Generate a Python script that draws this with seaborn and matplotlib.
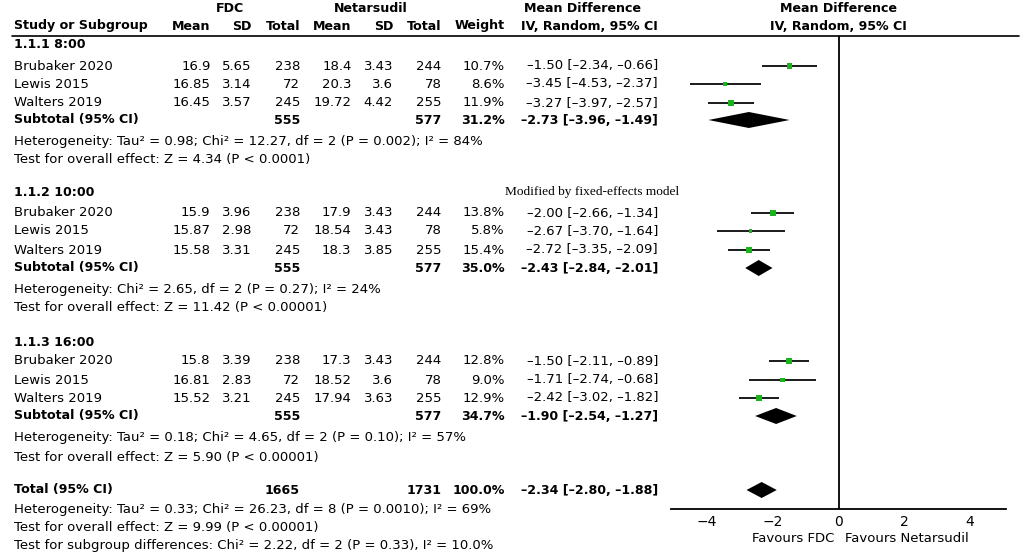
import numpy as np
import pandas as pd
import matplotlib
matplotlib.use('Agg')
import matplotlib.pyplot as plt
import seaborn as sns

# data
studies = ['Brubaker 2020', 'Lewis 2015', 'Walters 2019']
groups = ['1.1.1 8:00', '1.1.2 10:00', '1.1.3 16:00']
fdc_mean = [[16.9, 16.85, 16.45], [15.9, 15.87, 15.58], [15.8, 16.81, 15.52]]
fdc_sd = [[5.65, 3.14, 3.57], [3.96, 2.98, 3.31], [3.39, 2.83, 3.21]]
fdc_n = [[238, 72, 245], [238, 72, 245], [238, 72, 245]]
net_mean = [[18.4, 20.3, 19.72], [17.9, 18.54, 18.3], [17.3, 18.52, 17.94]]
net_sd = [[3.43, 3.6, 4.42], [3.43, 3.43, 3.85], [3.43, 3.6, 3.63]]
net_n = [[244, 78, 255], [244, 78, 255], [244, 78, 255]]
weight = [[10.7, 8.6, 11.9], [13.8, 5.8, 15.4], [12.8, 9.0, 12.9]]
md = [[-1.50, -3.45, -3.27], [-2.00, -2.67, -2.72], [-1.50, -1.71, -2.42]]
lo = [[-2.34, -4.53, -3.97], [-2.66, -3.70, -3.35], [-2.11, -2.74, -3.02]]
hi = [[-0.66, -2.37, -2.57], [-1.34, -1.64, -2.09], [-0.89, -0.68, -1.82]]
sub_n = [(555, 577), (555, 577), (555, 577)]
sub_w = [31.2, 35.0, 34.7]
sub_md = [-2.73, -2.43, -1.90]
sub_lo = [-3.96, -2.84, -2.54]
sub_hi = [-1.49, -2.01, -1.27]
het = ['Heterogeneity: Tau² = 0.98; Chi² = 12.27, df = 2 (P = 0.002); I² = 84%',
       'Heterogeneity: Chi² = 2.65, df = 2 (P = 0.27); I² = 24%',
       'Heterogeneity: Tau² = 0.18; Chi² = 4.65, df = 2 (P = 0.10); I² = 57%']
overall = ['Test for overall effect: Z = 4.34 (P < 0.0001)',
           'Test for overall effect: Z = 11.42 (P < 0.00001)',
           'Test for overall effect: Z = 5.90 (P < 0.00001)']
tot_n = (1665, 1731)
tot_md, tot_lo, tot_hi = -2.34, -2.80, -1.88
tot_lines = ['Heterogeneity: Tau² = 0.33; Chi² = 26.23, df = 8 (P = 0.0010); I² = 69%',
             'Test for overall effect: Z = 9.99 (P < 0.00001)',
             'Test for subgroup differences: Chi² = 2.22, df = 2 (P = 0.33), I² = 10.0%']

# layout (pixel rows)
group_y = [45, 193, 342]
row_step = [[66, 84, 103, 120, 141, 160], [213, 231, 250, 268, 290, 308], [361, 380, 398, 416, 438, 457]]
total_y = [490, 509, 527, 546]
col_x = [210.5, 251.5, 300, 351.5, 393, 441.5, 505]
ci_x = 658

sns.set_style('white')
plt.rcParams['font.family'] = ['DejaVu Sans']
plt.rcParams['text.color'] = 'black'
plt.rcParams['xtick.color'] = 'black'
fs = 9.5
fsb = 9.1

W, H = 1021, 559
fig = plt.figure(figsize=(W / 100, H / 100), dpi=100)
ax0 = fig.add_axes([0, 0, 1, 1])
ax0.set_xlim(0, W)
ax0.set_ylim(H, 0)
ax0.axis('off')

def txt(x, y, s, ha='left', bold=False, **kw):
    ax0.text(x, y, s, ha=ha, va='center', fontsize=fsb if bold else fs,
             fontweight='bold' if bold else 'normal', color='black', **kw)

# header
txt(230, 8, 'FDC', ha='center', bold=True)
txt(371, 8, 'Netarsudil', ha='center', bold=True)
txt(582, 8, 'Mean Difference', ha='center', bold=True)
txt(838, 8, 'Mean Difference', ha='center', bold=True)
txt(14, 26, 'Study or Subgroup', bold=True)
for x, s in zip(col_x, ['Mean', 'SD', 'Total', 'Mean', 'SD', 'Total', 'Weight']):
    txt(x, 26, s, ha='right', bold=True)
txt(ci_x, 26, 'IV, Random, 95% CI', ha='right', bold=True)
txt(838, 26, 'IV, Random, 95% CI', ha='center', bold=True)
ax0.plot([12, 1019], [36, 36], color='black', lw=1.2)

ax0.text(505, 192, 'Modified by fixed-effects model', ha='left', va='center',
         fontsize=9.6, family=['Liberation Serif'], color='black')

def ci_str(m, l, h):
    return f'{m:.2f} [{l:.2f}, {h:.2f}]'.replace('-', '\u2013')

for g in range(3):
    txt(14, group_y[g], groups[g], bold=True)
    ys = row_step[g]
    for i in range(3):
        y = ys[i]
        txt(14, y, studies[i])
        vals = [f'{fdc_mean[g][i]:g}', f'{fdc_sd[g][i]:g}', str(fdc_n[g][i]),
                f'{net_mean[g][i]:g}', f'{net_sd[g][i]:g}', str(net_n[g][i]),
                f'{weight[g][i]:.1f}%']
        for x, s in zip(col_x, vals):
            txt(x, y, s, ha='right')
        txt(ci_x, y, ci_str(md[g][i], lo[g][i], hi[g][i]), ha='right')
    y = ys[3]
    txt(14, y, 'Subtotal (95% CI)', bold=True)
    txt(col_x[2], y, str(sub_n[g][0]), ha='right', bold=True)
    txt(col_x[5], y, str(sub_n[g][1]), ha='right', bold=True)
    txt(col_x[6], y, f'{sub_w[g]:.1f}%', ha='right', bold=True)
    txt(ci_x, y, ci_str(sub_md[g], sub_lo[g], sub_hi[g]), ha='right', bold=True)
    txt(14, ys[4], het[g])
    txt(14, ys[5], overall[g])

txt(14, total_y[0], 'Total (95% CI)', bold=True)
txt(col_x[2], total_y[0], str(tot_n[0]), ha='right', bold=True)
txt(col_x[5], total_y[0], str(tot_n[1]), ha='right', bold=True)
txt(col_x[6], total_y[0], '100.0%', ha='right', bold=True)
txt(ci_x, total_y[0], ci_str(tot_md, tot_lo, tot_hi), ha='right', bold=True)
for y, s in zip(total_y[1:], tot_lines):
    txt(14, y, s)

# forest panel
x0, x1, ytop, ybot = 671, 1006, 36, 509
ax = fig.add_axes([x0 / W, (H - ybot) / H, (x1 - x0) / W, (ybot - ytop) / H])
ax.set_xlim(-5.1, 5.1)
ax.set_ylim(ybot, ytop)
ax.patch.set_alpha(0)

rows = pd.DataFrame({
    'y': [row_step[g][i] for g in range(3) for i in range(3)],
    'md': [md[g][i] for g in range(3) for i in range(3)],
    'lo': [lo[g][i] for g in range(3) for i in range(3)],
    'hi': [hi[g][i] for g in range(3) for i in range(3)],
    'w': [weight[g][i] for g in range(3) for i in range(3)],
})
ax.hlines(rows['y'], rows['lo'], rows['hi'], color='#1a1a1a', lw=1.4, zorder=2)
sns.scatterplot(data=rows, x='md', y='y', size='w', sizes=(5, 22), marker='s',
                color='#1db31d', edgecolor='none', legend=False, ax=ax, zorder=3)

def diamond(m, l, h, y, half=8):
    ax.fill([l, m, h, m], [y, y - half, y, y + half], color='black', lw=0, zorder=3)

for g in range(3):
    diamond(sub_md[g], sub_lo[g], sub_hi[g], row_step[g][3])
diamond(tot_md, tot_lo, tot_hi, total_y[0])

ax.axvline(0, color='black', lw=1.3, zorder=1)
for s in ['top', 'right', 'left']:
    ax.spines[s].set_visible(False)
ax.spines['bottom'].set_linewidth(1.3)
ax.spines['bottom'].set_color('black')
ax.set_xticks([-4, -2, 0, 2, 4])
ax.set_xticklabels(['\u22124', '\u22122', '0', '2', '4'])
ax.set_yticks([])
ax.tick_params(axis='x', direction='inout', length=8, width=1.2, labelsize=fs + 0.5,
               pad=0, colors='black')
ax.set_xlabel('')
ax.set_ylabel('')

txt(834, 538, 'Favours FDC', ha='right')
txt(845, 538, 'Favours Netarsudil', ha='left')

fig.savefig('out.png', dpi=100)
